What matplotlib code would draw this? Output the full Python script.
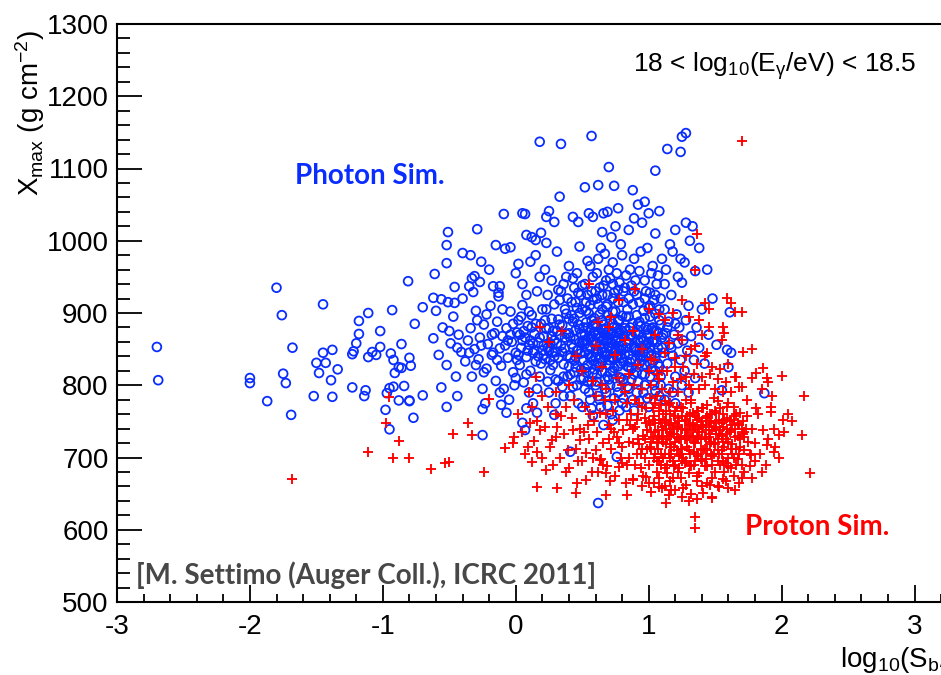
import matplotlib
matplotlib.use("Agg")
import matplotlib.pyplot as plt
from matplotlib.ticker import MultipleLocator

plt.rcParams['axes.unicode_minus'] = False
plt.rcParams['mathtext.fontset'] = 'custom'
plt.rcParams['mathtext.rm'] = 'Liberation Sans'
plt.rcParams['mathtext.it'] = 'Liberation Sans:italic'
plt.rcParams['mathtext.bf'] = 'Liberation Sans:bold'
plt.rcParams['mathtext.default'] = 'rm'

# ---------------- data ----------------
photon_outliers = [
    (-2.70, 853), (-2.69, 807), (-2.00, 810), (-2.00, 803), (-1.80, 935), (-1.76, 897),
    (-1.68, 852), (-1.75, 816), (-1.73, 803), (-1.87, 778), (-1.69, 759), (-1.45, 912),
    (-1.45, 845), (-1.38, 849), (-1.50, 831), (-1.43, 831), (-1.48, 817), (-1.34, 822),
    (-1.39, 807), (-1.52, 785), (-1.38, 784), (-1.23, 797), (-1.13, 793), (-1.14, 785),
    (-1.18, 889), (-1.11, 900), (-1.18, 871), (-1.20, 858), (-1.22, 847), (-1.23, 843),
    (-1.11, 839), (-1.08, 846), (-1.05, 842), (-1.02, 875), (-1.02, 853), (-0.93, 904),
    (-0.81, 944), (-0.86, 857), (-0.94, 844), (-0.92, 835), (-0.80, 838), (-0.88, 825),
    (-0.86, 824), (-0.79, 827), (-0.91, 817), (-0.92, 798), (-0.95, 796), (-0.84, 799),
    (-0.97, 789), (-0.88, 779), (-0.80, 779), (-0.98, 766), (-0.77, 755), (-0.95, 739),
    (-0.76, 885),
    (0.18, 1137), (0.34, 1134), (0.57, 1145), (1.25, 1144), (1.28, 1149), (1.14, 1127),
    (1.24, 1123), (0.70, 1102), (1.05, 1097), (0.52, 1074), (0.62, 1077), (0.74, 1076),
    (0.88, 1070), (0.33, 1061), (0.97, 1054), (0.92, 1050), (0.77, 1045), (1.08, 1041),
    (-0.09, 1037), (0.05, 1038), (0.07, 1037), (0.25, 1041), (0.23, 1033), (0.43, 1033),
    (0.47, 1026), (0.55, 1038), (0.58, 1033), (0.66, 1038), (0.69, 1040), (1.00, 1038),
    (0.89, 1031), (0.29, 1026), (-0.51, 1012), (-0.29, 1016), (-0.52, 994), (-0.40, 983),
    (-0.34, 980), (-0.52, 969), (-0.61, 954), (-0.15, 994), (-0.08, 989), (-0.04, 991),
    (0.08, 1008), (0.12, 1005), (0.19, 1011), (0.15, 1001), (0.23, 997), (0.02, 968),
    (0.11, 971), (0.15, 980), (-0.26, 971), (-0.31, 951), (-0.27, 943), (-0.35, 937),
    (-0.46, 936), (-0.32, 929), (-0.62, 921), (-0.56, 919), (-0.51, 915), (-0.46, 914),
    (-0.70, 908), (-0.17, 937), (-0.12, 937), (-0.13, 928),
    (0.62, 637), (0.41, 708), (0.76, 701), (-0.25, 731), (-0.25, 767), (-0.52, 770),
    (-0.70, 786), (-0.80, 778), (0.05, 748), (0.07, 738), (-0.11, 773), (-0.07, 762),
    (0.29, 759), (0.16, 762), (0.08, 768),
    (1.61, 901), (1.51, 856), (1.59, 849), (1.62, 845), (1.60, 825), (1.55, 793), (1.87, 789),
]

photon_cluster = [
    (-0.62, 865), (-0.58, 842), (-0.55, 880), (-0.52, 828), (-0.49, 858), (-0.47, 895),
    (-0.45, 812), (-0.43, 870), (-0.41, 846), (-0.60, 903), (-0.56, 797), (-0.44, 785),
    (-0.40, 920), (-0.38, 833), (-0.36, 862),
    (-0.34, 879), (-0.33, 812), (-0.31, 850), (-0.30, 903), (-0.28, 836), (-0.27, 866),
    (-0.25, 795), (-0.24, 884), (-0.22, 823), (-0.21, 857), (-0.19, 910), (-0.18, 842),
    (-0.16, 872), (-0.15, 806), (-0.14, 888), (-0.12, 851), (-0.11, 827), (-0.10, 868),
    (-0.09, 795), (-0.33, 948), (-0.20, 960), (-0.13, 923), (-0.23, 775), (-0.05, 780),
    (-0.29, 890), (-0.17, 845),
    (-0.08, 855), (-0.07, 879), (-0.06, 838), (-0.04, 902), (-0.03, 860), (-0.02, 818),
    (0.00, 845), (0.01, 873), (0.02, 890), (0.03, 828), (0.04, 852), (0.05, 911),
    (0.06, 804), (0.07, 866), (0.08, 839), (0.09, 882), (0.10, 856), (0.11, 820),
    (0.12, 897), (0.13, 845), (0.14, 871), (0.15, 833), (0.16, 930), (0.17, 859),
    (0.18, 812), (0.19, 885), (0.20, 848), (0.00, 955), (0.05, 940), (0.10, 790),
    (-0.01, 800), (0.13, 775), (0.18, 950), (0.08, 925), (0.03, 870), (0.15, 885),
    (0.19, 830), (0.11, 862),
    (0.21, 868), (0.22, 836), (0.23, 905), (0.24, 852), (0.25, 879), (0.26, 821),
    (0.27, 892), (0.28, 845), (0.29, 862), (0.30, 808), (0.31, 875), (0.32, 838),
    (0.33, 918), (0.34, 855), (0.35, 883), (0.36, 829), (0.37, 866), (0.38, 899),
    (0.39, 841), (0.40, 872), (0.41, 815), (0.42, 857), (0.43, 888), (0.44, 834),
    (0.45, 863), (0.46, 907), (0.47, 849), (0.48, 878), (0.49, 822), (0.50, 860),
    (0.22, 960), (0.27, 945), (0.31, 985), (0.36, 940), (0.40, 965), (0.44, 935),
    (0.48, 992), (0.25, 790), (0.30, 775), (0.35, 798), (0.41, 785), (0.46, 800),
    (0.50, 770), (0.24, 925), (0.29, 912), (0.34, 930), (0.39, 920), (0.43, 948),
    (0.47, 928), (0.21, 842), (0.26, 858), (0.30, 846), (0.33, 869), (0.37, 851),
    (0.41, 838), (0.45, 876), (0.49, 844), (0.23, 878), (0.28, 828), (0.32, 891),
    (0.36, 812), (0.40, 892), (0.44, 818), (0.48, 900),
    (0.51, 880), (0.52, 845), (0.53, 903), (0.54, 828), (0.55, 866), (0.56, 852),
    (0.57, 890), (0.58, 817), (0.59, 874), (0.60, 839), (0.61, 858), (0.62, 912),
    (0.63, 826), (0.64, 868), (0.65, 846), (0.66, 884), (0.67, 808), (0.68, 861),
    (0.69, 897), (0.70, 835), (0.71, 872), (0.72, 851), (0.73, 920), (0.74, 824),
    (0.75, 863), (0.76, 842), (0.77, 889), (0.78, 811), (0.79, 876), (0.80, 855),
    (0.51, 835), (0.53, 862), (0.55, 899), (0.57, 840), (0.59, 822), (0.61, 881),
    (0.63, 856), (0.65, 905), (0.67, 870), (0.69, 843), (0.71, 818), (0.73, 885),
    (0.75, 849), (0.77, 866), (0.79, 830),
    (0.52, 940), (0.56, 965), (0.60, 930), (0.64, 990), (0.68, 945), (0.72, 1005),
    (0.76, 955), (0.80, 980), (0.54, 925), (0.58, 950), (0.62, 975), (0.66, 938),
    (0.70, 960), (0.74, 928), (0.78, 942),
    (0.52, 795), (0.56, 780), (0.60, 800), (0.64, 770), (0.68, 790), (0.72, 760),
    (0.76, 798), (0.80, 775), (0.54, 805), (0.58, 758), (0.62, 785), (0.66, 745),
    (0.70, 808), (0.74, 782), (0.78, 765),
    (0.52, 870), (0.54, 850), (0.56, 875), (0.58, 860), (0.60, 885), (0.62, 848),
    (0.64, 837), (0.66, 862), (0.68, 878), (0.70, 852), (0.72, 838), (0.74, 868),
    (0.76, 880), (0.78, 850), (0.80, 838),
    (0.81, 868), (0.82, 843), (0.83, 895), (0.84, 826), (0.85, 858), (0.86, 880),
    (0.87, 836), (0.88, 912), (0.89, 850), (0.90, 872), (0.91, 818), (0.92, 862),
    (0.93, 888), (0.94, 840), (0.95, 866), (0.96, 903), (0.97, 829), (0.98, 855),
    (0.99, 877), (1.00, 845), (1.01, 895), (1.02, 823), (1.03, 860), (1.04, 918),
    (1.05, 838), (1.06, 875), (1.07, 852), (1.08, 890), (1.09, 812), (1.10, 866),
    (0.82, 935), (0.86, 960), (0.90, 945), (0.94, 985), (0.98, 930), (1.02, 955),
    (1.06, 940), (1.10, 975), (0.84, 798), (0.88, 780), (0.92, 805), (0.96, 790),
    (1.00, 770), (1.04, 800), (1.08, 785),
    (0.83, 852), (0.87, 870), (0.91, 848), (0.95, 835), (0.99, 858), (1.03, 880),
    (1.07, 830),
    (1.11, 845), (1.12, 905), (1.13, 872), (1.14, 830), (1.15, 888), (1.16, 856),
    (1.17, 925), (1.18, 841), (1.19, 870), (1.20, 812), (1.21, 898), (1.22, 858),
    (1.23, 880), (1.24, 835), (1.25, 942), (1.26, 862), (1.27, 820), (1.28, 890),
    (1.29, 848), (1.30, 910), (1.32, 868), (1.34, 835), (1.36, 880), (1.38, 852),
    (1.40, 905), (1.13, 960), (1.18, 985), (1.22, 950), (1.27, 970), (1.31, 1000),
    (1.35, 958), (1.38, 990), (1.15, 795), (1.20, 775), (1.25, 800), (1.30, 790),
    (1.35, 810), (1.42, 830), (1.45, 870), (1.48, 920), (1.44, 960), (1.33, 1020),
    (1.28, 1025), (1.20, 1015), (0.85, 1015), (0.95, 1025), (1.05, 1010), (0.75, 1020),
    (0.65, 1012),
]

photon_core = [
    (0.31, 858), (0.33, 884), (0.35, 846), (0.37, 905), (0.38, 871), (0.40, 826),
    (0.42, 897), (0.43, 852), (0.45, 839), (0.47, 884), (0.48, 859), (0.50, 905),
    (0.51, 862), (0.52, 823), (0.53, 887), (0.55, 843), (0.56, 911), (0.57, 868),
    (0.58, 834), (0.59, 893), (0.60, 856), (0.61, 827), (0.62, 872), (0.63, 898),
    (0.64, 851), (0.65, 819), (0.66, 877), (0.67, 846), (0.68, 909), (0.69, 865),
    (0.70, 828), (0.71, 891), (0.72, 858), (0.73, 837), (0.74, 881), (0.75, 902),
    (0.76, 862), (0.77, 826), (0.78, 873), (0.79, 848), (0.80, 896), (0.81, 832),
    (0.82, 879), (0.83, 861), (0.84, 905), (0.85, 842), (0.86, 868), (0.87, 823),
    (0.88, 886), (0.89, 853), (0.90, 835), (0.91, 897), (0.92, 870), (0.93, 848),
    (0.94, 882), (0.95, 815), (0.96, 862), (0.97, 893), (0.98, 839), (0.99, 871),
    (1.00, 907), (1.01, 852), (1.02, 878), (1.03, 832), (1.04, 863), (1.05, 899),
    (1.06, 845), (1.07, 872), (1.08, 826), (1.09, 884), (1.10, 852),
    (0.32, 932), (0.38, 950), (0.42, 915), (0.46, 955), (0.50, 938), (0.54, 972),
    (0.58, 918), (0.61, 955), (0.63, 935), (0.67, 982), (0.69, 925), (0.71, 948),
    (0.73, 970), (0.77, 932), (0.79, 995), (0.81, 915), (0.83, 952), (0.87, 938),
    (0.89, 975), (0.91, 925), (0.93, 958), (0.97, 945), (0.99, 990), (1.01, 928),
    (1.03, 965), (1.07, 952), (1.09, 920), (1.12, 940), (1.16, 995), (1.24, 975),
    (0.32, 806), (0.36, 785), (0.39, 812), (0.43, 798), (0.47, 775), (0.51, 810),
    (0.55, 790), (0.57, 768), (0.61, 805), (0.63, 780), (0.67, 795), (0.69, 772),
    (0.71, 800), (0.73, 752), (0.77, 790), (0.79, 810), (0.81, 782), (0.83, 770),
    (0.85, 795), (0.87, 808), (0.89, 765), (0.91, 790), (0.93, 778), (0.97, 800),
    (0.99, 782), (1.01, 812), (1.05, 792), (1.09, 800), (1.12, 780), (1.18, 790),
    (-0.26, 855), (-0.22, 898), (-0.18, 870), (-0.14, 835), (-0.10, 905), (-0.06, 862),
    (-0.02, 885), (0.02, 842), (0.06, 875), (0.10, 902), (0.14, 848), (0.18, 866),
    (0.22, 890), (0.26, 835), (0.28, 875), (-0.24, 818), (-0.12, 790), (0.00, 810),
    (0.08, 815), (0.16, 795), (0.24, 805), (-0.35, 845), (-0.44, 852), (-0.50, 875),
    (-0.30, 828),
]

photon_core2 = [
    (0.41, 866), (0.44, 892), (0.46, 848), (0.49, 871), (0.52, 857), (0.54, 880),
    (0.56, 838), (0.58, 883), (0.60, 870), (0.62, 830), (0.63, 865), (0.65, 890),
    (0.66, 852), (0.68, 840), (0.70, 875), (0.71, 860), (0.73, 902), (0.74, 845),
    (0.76, 872), (0.78, 890), (0.79, 860), (0.81, 850), (0.83, 875), (0.85, 895),
    (0.86, 832), (0.88, 866), (0.90, 852), (0.92, 885), (0.94, 862), (0.96, 845),
    (0.98, 880), (1.00, 860), (1.02, 842), (1.04, 875), (1.06, 860), (1.08, 905),
    (1.11, 870), (1.14, 880), (1.17, 852), (1.20, 885),
    (0.45, 825), (0.49, 808), (0.53, 818), (0.57, 805), (0.61, 815), (0.65, 832),
    (0.69, 812), (0.73, 820), (0.77, 840), (0.81, 808), (0.85, 825), (0.89, 815),
    (0.93, 830), (0.97, 815), (1.01, 830), (1.05, 820),
    (0.45, 915), (0.49, 925), (0.53, 915), (0.57, 930), (0.61, 920), (0.65, 925),
    (0.69, 912), (0.73, 940), (0.77, 915), (0.81, 930), (0.85, 920), (0.89, 930),
    (0.93, 915), (0.97, 920), (1.01, 910), (1.05, 925),
    (0.01, 835), (0.05, 862), (0.09, 848), (0.13, 858), (0.17, 840), (0.21, 855),
    (0.25, 848), (0.29, 840), (-0.04, 870), (0.04, 895), (0.12, 880), (0.20, 905),
    (0.27, 868),
]

proton_outliers = [
    (-0.95, 784), (-0.98, 748), (-0.88, 723), (-1.11, 708), (-0.92, 699), (-0.80, 699),
    (-1.68, 670), (-0.20, 781), (-0.36, 748), (-0.47, 733), (-0.33, 731), (-0.64, 684),
    (-0.53, 692), (-0.50, 694), (-0.24, 680), (-0.08, 713), (-0.01, 728), (0.16, 659),
    (0.31, 658), (0.45, 651), (0.68, 648), (0.84, 648), (1.35, 618), (1.35, 602),
    (1.13, 637), (1.02, 652), (1.17, 655), (1.36, 643), (1.48, 645), (0.12, 694),
    (0.23, 683), (0.38, 680), (0.53, 669), (0.16, 708), (0.20, 699), (0.09, 715),
    (0.14, 723), (0.27, 724), (0.18, 738), (0.31, 742), (0.11, 748), (0.43, 738),
    (0.48, 724), (0.53, 706), (0.63, 697), (0.68, 679), (0.78, 687), (0.88, 669),
    (0.98, 673), (1.08, 659),
    (1.59, 921), (1.62, 914), (1.42, 914), (1.70, 901), (1.65, 901), (1.78, 850),
    (1.71, 846), (1.86, 824), (1.81, 817), (1.78, 810), (1.89, 810), (2.00, 813),
    (2.17, 785), (1.93, 785), (1.92, 763), (2.01, 752), (2.08, 751), (1.94, 739),
    (1.98, 731), (2.15, 731), (1.89, 717), (1.94, 708), (2.21, 679), (1.78, 671),
    (1.85, 680), (1.65, 655), (1.48, 644), (1.53, 659), (1.41, 651), (1.77, 704),
    (1.72, 735), (1.81, 769), (1.74, 780), (1.68, 798), (1.65, 812), (1.56, 881),
    (1.57, 872), (1.55, 863), (1.70, 1138), (1.36, 1009),
    (0.02, 760), (0.05, 735), (0.10, 790), (0.12, 770), (0.16, 750), (0.20, 785),
    (-0.02, 720), (0.07, 705),
]

proton_cluster = [
    (0.55, 940), (0.78, 918), (0.90, 933), (1.00, 905), (1.12, 890), (1.25, 918),
    (1.30, 895), (1.35, 960), (1.38, 890), (1.40, 870), (1.45, 905), (0.60, 855),
    (0.70, 880), (0.82, 862), (0.95, 850), (1.05, 870), (1.15, 858), (0.45, 840),
    (0.35, 875), (0.25, 860), (0.15, 812), (0.50, 820), (0.65, 825), (0.75, 842),
    (0.85, 815), (0.92, 828), (1.02, 836), (1.10, 820), (1.20, 838), (1.28, 812),
    (0.58, 806), (0.68, 795), (0.80, 800), (0.40, 800), (0.30, 790), (1.22, 870),
    (1.18, 900), (1.32, 850), (1.42, 840), (0.18, 880), (0.62, 888), (0.72, 895),
    (0.88, 875), (1.08, 898),
    (0.22, 742), (0.26, 715), (0.30, 760), (0.33, 700), (0.36, 732), (0.40, 685),
    (0.42, 755), (0.45, 712), (0.48, 740), (0.50, 695), (0.52, 770), (0.55, 725),
    (0.57, 680), (0.59, 750), (0.60, 710), (0.28, 690), (0.38, 770), (0.46, 665),
    (0.54, 745), (0.58, 700),
    (0.61, 735), (0.63, 762), (0.64, 698), (0.66, 720), (0.67, 780), (0.69, 688),
    (0.70, 745), (0.72, 712), (0.73, 765), (0.75, 675), (0.76, 728), (0.78, 752),
    (0.79, 700), (0.81, 738), (0.82, 790), (0.84, 690), (0.85, 722), (0.87, 760),
    (0.88, 670), (0.90, 742), (0.91, 705), (0.93, 775), (0.94, 685), (0.96, 730),
    (0.97, 755), (0.99, 712), (1.00, 690), (0.62, 680), (0.68, 760), (0.74, 735),
    (0.80, 715), (0.86, 745), (0.92, 725), (0.98, 768), (0.65, 800), (0.77, 810),
    (0.89, 800), (0.95, 660), (0.83, 665), (0.71, 668),
    (1.01, 745), (1.02, 722), (1.03, 768), (1.04, 700), (1.05, 735), (1.06, 785),
    (1.07, 712), (1.08, 752), (1.09, 690), (1.10, 728), (1.11, 760), (1.12, 705),
    (1.13, 740), (1.14, 678), (1.15, 772), (1.16, 718), (1.17, 748), (1.18, 695),
    (1.19, 733), (1.20, 765), (1.21, 710), (1.22, 742), (1.23, 685), (1.24, 725),
    (1.25, 758), (1.26, 700), (1.27, 738), (1.28, 780), (1.29, 715), (1.30, 748),
    (1.31, 690), (1.32, 730), (1.33, 762), (1.34, 708), (1.35, 742), (1.36, 675),
    (1.37, 725), (1.38, 755), (1.39, 698), (1.40, 735),
    (1.02, 800), (1.06, 815), (1.10, 795), (1.14, 820), (1.18, 805), (1.22, 790),
    (1.26, 825), (1.30, 800), (1.34, 815), (1.38, 795),
    (1.04, 665), (1.08, 672), (1.12, 660), (1.16, 668), (1.20, 655), (1.24, 672),
    (1.28, 662), (1.32, 650), (1.36, 668), (1.40, 660),
    (1.03, 728), (1.07, 738), (1.11, 722), (1.15, 745), (1.19, 715), (1.23, 750),
    (1.27, 725), (1.31, 760), (1.35, 720), (1.39, 745),
    (1.05, 705), (1.09, 772), (1.13, 718), (1.17, 732), (1.21, 770), (1.25, 712),
    (1.29, 740), (1.33, 728), (1.37, 702), (1.01, 782),
    (1.41, 768), (1.42, 712), (1.43, 745), (1.44, 688), (1.45, 728), (1.46, 760),
    (1.47, 705), (1.48, 738), (1.49, 782), (1.50, 718), (1.51, 750), (1.52, 695),
    (1.53, 732), (1.54, 768), (1.55, 710), (1.56, 742), (1.57, 680), (1.58, 725),
    (1.59, 755), (1.60, 700), (1.62, 738), (1.64, 770), (1.66, 712), (1.68, 745),
    (1.70, 690), (1.72, 728), (1.74, 758), (1.76, 705), (1.78, 740), (1.80, 720),
    (1.42, 800), (1.46, 815), (1.50, 795), (1.54, 822), (1.58, 805), (1.62, 790),
    (1.66, 812), (1.70, 798), (1.44, 665), (1.48, 672), (1.52, 660), (1.56, 670),
    (1.60, 658), (1.64, 675), (1.68, 665), (1.72, 680),
    (1.43, 725), (1.47, 748), (1.51, 732), (1.55, 705), (1.59, 740), (1.63, 718),
    (1.67, 730), (1.71, 750),
    (1.82, 760), (1.84, 705), (1.86, 738), (1.88, 690), (1.90, 725), (1.92, 770),
    (1.95, 715), (1.98, 700), (2.02, 735), (2.05, 760), (1.85, 795), (1.90, 805),
]

proton_core = [
    (0.91, 752), (0.93, 718), (0.95, 770), (0.97, 700), (0.99, 738), (1.01, 715),
    (1.03, 752), (1.05, 775), (1.06, 695), (1.08, 730), (1.09, 748), (1.11, 700),
    (1.12, 778), (1.14, 725), (1.15, 705), (1.16, 760), (1.18, 740), (1.19, 688),
    (1.20, 722), (1.22, 755), (1.23, 702), (1.24, 740), (1.26, 768), (1.27, 692),
    (1.28, 730), (1.30, 710), (1.31, 745), (1.32, 775), (1.34, 722), (1.35, 695),
    (1.36, 752), (1.38, 735), (1.39, 712), (1.40, 768), (1.42, 728), (1.43, 698),
    (1.45, 750), (1.46, 718), (1.48, 702), (1.49, 742), (1.50, 765), (1.52, 725),
    (1.53, 705), (1.55, 748), (1.56, 722), (1.58, 692), (1.59, 770), (1.61, 735),
    (1.62, 712), (1.64, 752), (1.65, 728), (1.67, 698), (1.69, 762), (1.70, 740),
    (1.72, 710),
    (0.95, 712), (0.98, 748), (1.02, 735), (1.04, 758), (1.06, 720), (1.10, 742),
    (1.13, 765), (1.16, 735), (1.17, 705), (1.21, 728), (1.24, 712), (1.25, 740),
    (1.29, 758), (1.30, 730), (1.33, 745), (1.36, 728), (1.37, 765), (1.41, 742),
    (1.44, 758), (1.46, 732), (1.49, 720), (1.51, 762), (1.54, 738), (1.57, 752),
    (1.60, 722), (1.63, 745), (1.66, 760), (1.69, 725), (1.73, 740), (1.75, 722),
    (0.95, 795), (1.00, 820), (1.04, 835), (1.08, 808), (1.12, 845), (1.16, 790),
    (1.20, 825), (1.24, 808), (1.28, 840), (1.32, 795), (1.36, 830), (1.40, 812),
    (1.44, 845), (1.48, 825), (1.52, 808), (1.56, 790), (1.60, 830), (1.35, 855),
    (1.25, 862), (1.45, 880),
    (0.90, 690), (0.96, 675), (1.00, 665), (1.06, 680), (1.10, 658), (1.14, 690),
    (1.18, 672), (1.22, 680), (1.26, 658), (1.30, 678), (1.34, 690), (1.38, 678),
    (1.42, 688), (1.46, 662), (1.50, 680), (1.54, 690), (1.58, 668), (1.62, 685),
    (1.66, 690), (1.70, 672), (1.76, 688), (1.80, 695), (1.25, 645), (1.30, 640),
    (1.15, 648),
    (0.24, 770), (0.30, 728), (0.34, 758), (0.39, 710), (0.44, 780), (0.47, 695),
    (0.51, 735), (0.56, 760), (0.60, 785), (0.66, 690), (0.70, 725), (0.75, 780),
    (0.80, 692), (0.84, 752), (0.88, 720),
]

proton_core2 = [
    (1.02, 712), (1.05, 748), (1.07, 725), (1.09, 705), (1.11, 738), (1.13, 752),
    (1.15, 730), (1.17, 715), (1.19, 758), (1.21, 742), (1.23, 725), (1.25, 695),
    (1.27, 750), (1.29, 728), (1.31, 705), (1.33, 738), (1.35, 758), (1.37, 740),
    (1.39, 725), (1.41, 710), (1.43, 755), (1.45, 738), (1.47, 722), (1.49, 705),
    (1.51, 740), (1.53, 752), (1.55, 730), (1.57, 715), (1.59, 732), (1.61, 750),
    (1.63, 705), (1.65, 740), (1.67, 748), (1.69, 715), (1.71, 732),
    (1.08, 765), (1.12, 750), (1.16, 775), (1.20, 748), (1.24, 770), (1.28, 752),
    (1.32, 780), (1.36, 765), (1.40, 750), (1.44, 772), (1.48, 760), (1.52, 778),
    (1.56, 760), (1.60, 775), (1.64, 758),
    (1.08, 695), (1.12, 685), (1.16, 700), (1.20, 690), (1.24, 705), (1.28, 695),
    (1.32, 688), (1.36, 705), (1.40, 695), (1.44, 710), (1.48, 690), (1.52, 710),
    (1.56, 695), (1.60, 688), (1.64, 700), (1.68, 705),
    (0.85, 700), (0.88, 740), (0.92, 760), (0.94, 705), (0.97, 725), (1.00, 750),
    (0.90, 780), (0.84, 775), (0.78, 720), (0.72, 740),
]

photon_pts = photon_outliers + photon_cluster + photon_core + photon_core2
proton_pts = proton_outliers + proton_cluster + proton_core + proton_core2
photon_x = [p[0] for p in photon_pts]
photon_y = [p[1] for p in photon_pts]
proton_x = [p[0] for p in proton_pts]
proton_y = [p[1] for p in proton_pts]

x_ticks = [-3, -2, -1, 0, 1, 2, 3]
y_ticks = [500, 600, 700, 800, 900, 1000, 1100, 1200, 1300]

# ---------------- figure ----------------
W, H = 941, 675
fig = plt.figure(figsize=(W / 100, H / 100), dpi=100)
ax = fig.add_axes([117 / W, 73 / H, 864 / W, 578 / H])
ax.set_xlim(-3, 3.5)
ax.set_ylim(500, 1300)

ax.scatter(photon_x, photon_y, marker='o', s=40, facecolors='none',
           edgecolors='#0a2dff', linewidths=1.3, zorder=2)
ax.scatter(proton_x, proton_y, marker='+', s=60, c='#ff0000',
           linewidths=1.35, zorder=3)

for s in ax.spines.values():
    s.set_linewidth(1.5)
ax.spines['right'].set_visible(False)

ax.set_xticks(x_ticks)
ax.set_yticks(y_ticks)
ax.xaxis.set_minor_locator(MultipleLocator(0.2))
ax.yaxis.set_minor_locator(MultipleLocator(20))
ax.tick_params(axis='both', which='both', direction='in', width=1.3,
               top=False, right=False, labelsize=20)
ax.tick_params(axis='y', which='major', length=18, pad=6)
ax.tick_params(axis='y', which='minor', length=9)
ax.tick_params(axis='x', which='major', length=12, pad=9)
ax.tick_params(axis='x', which='minor', length=6)
for lab in ax.get_xticklabels() + ax.get_yticklabels():
    lab.set_fontfamily('Liberation Sans')

fig.text(30 / W, 1 - 30 / H, r"X$_{\mathrm{max}}$ (g cm$^{-2}$)", rotation=90,
         ha='center', va='top', fontsize=20, family='Liberation Sans')
fig.text(840 / W, 1 - 667 / H, r"log$_{10}$(S$_{\mathrm{b}}$/VEM)", ha='left',
         va='baseline', fontsize=20, family='Liberation Sans')

fig.text(775 / W, 1 - 66 / H, r"18 < log$_{10}$(E$_{\gamma}$/eV) < 18.5",
         ha='center', va='center', fontsize=19, family='Liberation Sans')
fig.text(370 / W, 1 - 176 / H, "Photon Sim.", color='#0a2dff', fontsize=20,
         fontweight='bold', family='Lato', ha='center', va='center')
fig.text(817 / W, 1 - 527 / H, "Proton Sim.", color='#ff0000', fontsize=20,
         fontweight='bold', family='Lato', ha='center', va='center')
fig.text(136 / W, 1 - 575 / H, "[M. Settimo (Auger Coll.), ICRC 2011]",
         color='#474747', fontsize=20, fontweight='bold', family='Lato',
         ha='left', va='center')

fig.savefig("out.png", dpi=100)
